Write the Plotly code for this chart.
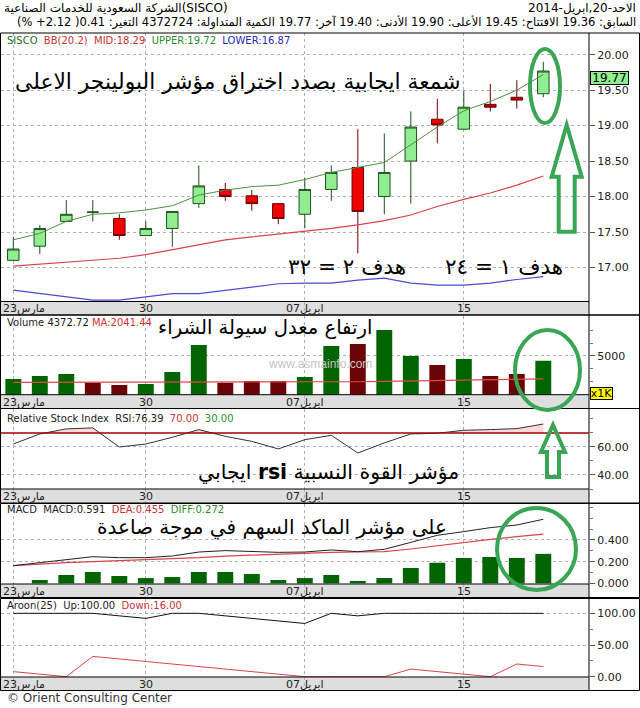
import plotly.graph_objects as go

W, H = 640, 708

# ---------------- data ----------------
# Tadawul sessions (Sun-Thu), 23 Mar 2014 .. 20 Apr 2014
sessions = ["2014-03-23", "2014-03-24", "2014-03-25", "2014-03-26", "2014-03-27",
            "2014-03-30", "2014-03-31", "2014-04-01", "2014-04-02", "2014-04-03",
            "2014-04-06", "2014-04-07", "2014-04-08", "2014-04-09", "2014-04-10",
            "2014-04-13", "2014-04-14", "2014-04-15", "2014-04-16", "2014-04-17",
            "2014-04-20"]
date_tick_idx = [0, 5, 11, 17]
date_tick_text = ["23مارس", "30", "07ابريل", "15"]

opens = [17.10, 17.30, 17.65, 17.78, 17.69, 17.45, 17.55, 17.90, 18.10, 18.01, 17.90,
         17.75, 18.10, 18.41, 18.00, 18.50, 19.09, 18.95, 19.30, 19.40, 19.45]
highs = [17.43, 17.60, 17.95, 17.95, 17.75, 17.65, 17.79, 18.44, 18.19, 18.09, 17.90,
         18.26, 18.44, 18.95, 18.89, 19.20, 19.38, 19.49, 19.59, 19.64, 19.90]
lows = [17.10, 17.19, 17.64, 17.65, 17.39, 17.45, 17.29, 17.84, 17.94, 17.80, 17.61,
        17.55, 17.94, 17.20, 17.75, 17.90, 18.75, 18.95, 19.20, 19.24, 19.40]
closes = [17.26, 17.55, 17.75, 17.78, 17.45, 17.55, 17.79, 18.15, 18.00, 17.90, 17.69,
          18.10, 18.34, 17.79, 18.34, 18.98, 19.01, 19.26, 19.26, 19.36, 19.77]

bb_upper = [17.39, 17.48, 17.65, 17.75, 17.77, 17.81, 17.87, 18.02, 18.09, 18.14, 18.16,
            18.24, 18.34, 18.41, 18.48, 18.73, 18.98, 19.21, 19.34, 19.50, 19.72]
bb_mid = [17.02, 17.05, 17.08, 17.10, 17.13, 17.18, 17.25, 17.33, 17.39, 17.43, 17.47,
          17.50, 17.55, 17.60, 17.66, 17.74, 17.86, 17.96, 18.05, 18.16, 18.29]
bb_lower = [16.68, 16.63, 16.59, 16.54, 16.54, 16.59, 16.63, 16.63, 16.68, 16.73, 16.77,
            16.78, 16.78, 16.82, 16.85, 16.78, 16.75, 16.75, 16.78, 16.83, 16.87]

volume_k = [2028, 2416, 2674, 1550, 1253, 1382, 2933, 6421, 1550, 1770, 1770,
            2287, 6292, 6550, 8359, 5000, 3837, 4612, 2416, 2674, 4372.72]
volume_ma = [1598, 1600, 1600, 1601, 1601, 1602, 1602, 1602, 1602, 1602, 1602,
             1602, 1623, 1675, 1727, 1780, 1832, 1884, 1937, 1989, 2041.44]

rsi = [62.1, 69.3, 72.9, 73.6, 60.0, 62.1, 66.9, 72.4, 67.6, 64.0, 58.6,
       65.2, 68.3, 55.7, 62.9, 69.3, 69.8, 71.9, 72.4, 73.1, 76.39]
rsi_upper, rsi_lower = 70.0, 30.0

macd = [0.163, 0.191, 0.222, 0.246, 0.237, 0.237, 0.252, 0.289, 0.302, 0.292, 0.286,
        0.289, 0.308, 0.292, 0.314, 0.378, 0.443, 0.477, 0.514, 0.538, 0.591]
dea = [0.163, 0.178, 0.191, 0.200, 0.209, 0.215, 0.225, 0.237, 0.252, 0.262, 0.271,
       0.277, 0.286, 0.289, 0.292, 0.317, 0.348, 0.375, 0.406, 0.431, 0.455]
diff = [0.000, 0.031, 0.077, 0.105, 0.068, 0.049, 0.058, 0.105, 0.105, 0.086, 0.031,
        0.049, 0.077, 0.022, 0.049, 0.142, 0.190, 0.234, 0.243, 0.234, 0.272]

aroon_up = [100, 100, 100, 100, 96, 92, 100, 100, 96, 92, 88,
            84, 100, 96, 100, 100, 100, 100, 100, 100, 100]
aroon_down = [8, 4, 0, 32, 28, 24, 20, 16, 12, 8, 4,
              0, 0, 0, 0, 12, 8, 4, 0, 20, 16]

idx = list(range(len(sessions)))

# ---------------- geometry (pixels) ----------------
PLOT_L, PLOT_R = 1.0, 589.0          # plot area, right column holds the value scale
FIRST_PX, STEP_PX = 13.3, 26.5       # centre of first session, session spacing
x_range = [(PLOT_L - FIRST_PX) / STEP_PX, (PLOT_R - FIRST_PX) / STEP_PX]


def fx(px):
    return px / W


def fy(py):
    return 1 - py / H


def ydom(top, bottom):
    return [fy(bottom), fy(top)]


FONT = "DejaVu Sans"
TICKFONT = dict(family=FONT, size=11, color="#222")
GRID = "#b0b0b0"

# panel boxes: (axis number, top px, bottom px, value range)
price_box = (1, 33.0, 301.5, [16.52, 20.306])
vol_box = (3, 315.5, 394.7, [0, 10230])
rsi_box = (6, 409.0, 489.0, [30.0, 87.1])
macd_box = (8, 504.0, 584.0, [-0.006, 0.732])
aroon_box = (10, 599.0, 677.0, [-0.5, 122.6])
strip_boxes = [(2, 301.5, 315.0), (4, 394.7, 408.5), (7, 489.0, 503.0),
               (9, 584.0, 597.5), (11, 677.0, 690.5)]
blocks = [(33.0, 315.0), (315.0, 408.5), (408.5, 503.0), (503.5, 597.5), (598.5, 690.5)]

layout = dict(template="none", width=W, height=H,
              margin=dict(l=0, r=0, t=0, b=0, pad=0, autoexpand=False),
              paper_bgcolor="white", plot_bgcolor="rgba(0,0,0,0)",
              showlegend=False, hovermode=False, boxgap=0.38, bargap=0.4,
              font=dict(family=FONT, color="#000"))


def name(kind, n):
    return kind if n == 1 else f"{kind}{n}"


def add_x(n, grid=True):
    layout[name("xaxis", n)] = dict(
        domain=[fx(PLOT_L), fx(PLOT_R)], range=x_range, anchor=name("y", n),
        showticklabels=False, ticks="", tickvals=date_tick_idx, automargin=False,
        showgrid=grid, gridcolor=GRID, griddash="dot", gridwidth=1,
        zeroline=False, showline=False, fixedrange=True,
        rangeslider=dict(visible=False))


def add_y(n, top, bottom, rng, tickvals=None, ticktext=None, minor_vals=None, visible=True):
    ax = dict(domain=ydom(top, bottom), range=rng, anchor=name("x", n), automargin=False,
              zeroline=False, showline=False, fixedrange=True)
    if not visible:
        ax.update(visible=False)
    else:
        ax.update(side="right", ticks="outside", ticklen=5, tickcolor="#555",
                  tickvals=tickvals, ticktext=ticktext, tickfont=TICKFONT,
                  showgrid=True, gridcolor=GRID, griddash="dot", gridwidth=1)
        if minor_vals:
            ax["minor"] = dict(tickvals=minor_vals, ticks="outside", ticklen=3,
                               tickcolor="#777", showgrid=False)
    layout[name("yaxis", n)] = ax


# price
p_ticks = [17.0, 17.5, 18.0, 18.5, 19.0, 19.5, 20.0]
add_x(1)
add_y(1, price_box[1], price_box[2], price_box[3], p_ticks, [f"{v:.2f}" for v in p_ticks])
# volume
add_x(3)
add_y(3, vol_box[1], vol_box[2], vol_box[3], [5000], ["5000"],
      [1666.7, 3333.3, 6666.7, 8333.3])
# rsi: the shading subplot covers only the part of the panel above the 70 level
rsi_top_px, rsi_bot_px = rsi_box[1], rsi_box[2]
r_lo, r_hi = rsi_box[3]
rsi70_px = rsi_top_px + (r_hi - rsi_upper) / (r_hi - r_lo) * (rsi_bot_px - rsi_top_px)
add_x(5, grid=False)
add_y(5, rsi_top_px, rsi70_px, [rsi_upper, r_hi], visible=False)
add_x(6)
add_y(6, rsi_top_px, rsi_bot_px, rsi_box[3], [40, 60], ["40.00", "60.00"], [30, 50, 70, 80])
# macd
add_x(8)
add_y(8, macd_box[1], macd_box[2], macd_box[3], [0.0, 0.2, 0.4],
      ["0.000", "0.200", "0.400"], [0.1, 0.3, 0.5, 0.6, 0.7])
# aroon
add_x(10)
add_y(10, aroon_box[1], aroon_box[2], aroon_box[3], [0, 50, 100],
      ["0.00", "50.00", "100.00"], [25, 75])
# date strips
for n, t, b in strip_boxes:
    add_x(n)
    add_y(n, t, b, [0, 1], visible=False)

fig = go.Figure()
fig.update_layout(**layout)

# ---------------- traces ----------------
fig.add_trace(go.Candlestick(
    x=idx, open=opens, high=highs, low=lows, close=closes, xaxis="x", yaxis="y",
    whiskerwidth=0,
    increasing=dict(fillcolor="#90ee90", line=dict(color="#1f4f1f", width=1)),
    decreasing=dict(fillcolor="#f00000", line=dict(color="#6e0000", width=1))))
fig.add_trace(go.Scatter(x=idx, y=bb_mid, mode="lines", xaxis="x", yaxis="y",
                         line=dict(color="#d9434b", width=1.2)))
fig.add_trace(go.Scatter(x=idx, y=bb_lower, mode="lines", xaxis="x", yaxis="y",
                         line=dict(color="#4a4ad0", width=1.2)))
fig.add_trace(go.Scatter(x=idx, y=bb_upper, mode="lines", xaxis="x", yaxis="y",
                         line=dict(color="#4f8f45", width=1)))

vol_colors = ["#006400" if c > o else "#6b0505" for o, c in zip(opens, closes)]
fig.add_trace(go.Bar(x=idx, y=volume_k, xaxis="x3", yaxis="y3", width=0.6,
                     marker=dict(color=vol_colors, line=dict(width=0))))
fig.add_trace(go.Scatter(x=idx, y=volume_ma, mode="lines", xaxis="x3", yaxis="y3",
                         line=dict(color="#e04848", width=1.2)))

fig.add_trace(go.Scatter(x=idx, y=rsi, mode="lines", xaxis="x5", yaxis="y5",
                         fill="tozeroy", fillcolor="#ffd9d9", line=dict(width=0)))
fig.add_trace(go.Scatter(x=idx, y=rsi, mode="lines", xaxis="x6", yaxis="y6",
                         line=dict(color="#333333", width=1)))

fig.add_trace(go.Bar(x=idx, y=diff, xaxis="x8", yaxis="y8", width=0.6,
                     marker=dict(color="#006400", line=dict(width=0))))
fig.add_trace(go.Scatter(x=idx, y=dea, mode="lines", xaxis="x8", yaxis="y8",
                         line=dict(color="#d9434b", width=1.2)))
fig.add_trace(go.Scatter(x=idx, y=macd, mode="lines", xaxis="x8", yaxis="y8",
                         line=dict(color="#222222", width=1)))

fig.add_trace(go.Scatter(x=idx, y=aroon_up, mode="lines", xaxis="x10", yaxis="y10",
                         line=dict(color="#111111", width=1)))
fig.add_trace(go.Scatter(x=idx, y=aroon_down, mode="lines", xaxis="x10", yaxis="y10",
                         line=dict(color="#d9434b", width=1)))

# ---------------- frames ----------------
shapes = []
for n, t, b in strip_boxes:
    shapes.append(dict(type="rect", xref=f"x{n} domain", yref=f"y{n} domain",
                       x0=0, x1=1, y0=0, y1=1, fillcolor="#dedede",
                       line=dict(width=0), layer="below"))
    shapes.append(dict(type="line", xref="paper", yref="paper", x0=0, x1=fx(PLOT_R),
                       y0=fy(t), y1=fy(t), line=dict(color="#000", width=1)))
for t, b in blocks:
    shapes.append(dict(type="rect", xref="paper", yref="paper", x0=fx(0.5), x1=fx(639.5),
                       y0=fy(b), y1=fy(t), line=dict(color="#000", width=1)))
    shapes.append(dict(type="line", xref="paper", yref="paper", x0=fx(PLOT_R), x1=fx(PLOT_R),
                       y0=fy(b), y1=fy(t), line=dict(color="#000", width=1)))
# RSI 70 reference line
shapes.append(dict(type="line", xref="x6 domain", yref="y6", x0=0, x1=1,
                   y0=rsi_upper, y1=rsi_upper, line=dict(color="#a00000", width=1.5)))

# hand-drawn green highlights
HL = "#3aa655"


def ellipse(x0, x1, y0, y1):
    return dict(type="circle", xref="paper", yref="paper", x0=fx(x0), x1=fx(x1),
                y0=fy(y1), y1=fy(y0), line=dict(color=HL, width=4))


def up_arrow(tip_x, tip_y, head_y, head_half, shaft_half, bottom_y):
    pts = [(tip_x, tip_y), (tip_x + head_half, head_y), (tip_x + shaft_half, head_y),
           (tip_x + shaft_half, bottom_y), (tip_x - shaft_half, bottom_y),
           (tip_x - shaft_half, head_y), (tip_x - head_half, head_y)]
    path = "M " + " L ".join(f"{fx(a):.5f},{fy(b):.5f}" for a, b in pts) + " Z"
    return dict(type="path", xref="paper", yref="paper", path=path,
                line=dict(color=HL, width=4))


shapes += [
    ellipse(530, 560, 49, 123),
    up_arrow(566.7, 125, 176.7, 15, 8, 231.7),
    ellipse(515, 580, 330, 410),
    up_arrow(553, 425, 452, 12, 6, 477),
    ellipse(497, 576, 508, 590),
]
fig.update_layout(shapes=shapes)

# ---------------- text ----------------
ann = []
RLE, PDF = "\u202b", "\u202c"


def text(x, y, s, size=11, color="#000", xanchor="left", yanchor="middle", **kw):
    d = dict(xref="paper", yref="paper", x=fx(x), y=fy(y), text=s, showarrow=False,
             xanchor=xanchor, yanchor=yanchor,
             font=dict(family=kw.pop("family", FONT), size=size, color=color))
    d.update(kw)
    ann.append(d)


# header
text(2, 8, "الشركة السعودية للخدمات الصناعية(SISCO)", size=12)
text(638, 8, "الاحد-20,ابريل-2014", size=12, xanchor="right")
text(638, 23, RLE + "السابق: 19.36 الافتتاح: 19.45 الأعلى: 19.90 الأدنى: 19.40 آخر: 19.77 "
     "الكمية المتداولة: 4372724 التغير: 0.41( 2.12+ %)" + PDF, size=11.5, xanchor="right")


def legend(y, parts, sep="  "):
    s = sep.join(f"<span style='color:{c}'>{t}</span>" for t, c in parts)
    text(5, y, s, size=10)


legend(40, [("SISCO", "#1a6e1a"), ("BB(20.2)", "#c83232"), ("MID:18.29", "#c83232"),
            ("UPPER:19.72", "#2e8b2e"), ("LOWER:16.87", "#2828b4")])
legend(322, [("Volume", "#222"), ("4372.72", "#222"), ("MA:2041.44", "#d03030")], sep=" ")
legend(418, [("Relative Stock Index", "#222"), ("RSI:76.39", "#222"),
             ("70.00", "#c83232"), ("30.00", "#2e8b2e")])
legend(509, [("MACD", "#222"), ("MACD:0.591", "#222"), ("DEA:0.455", "#c83232"),
             ("DIFF:0.272", "#2e8b2e")])
legend(605, [("Aroon(25)", "#222"), ("Up:100.00", "#222"), ("Down:16.00", "#c83232")])

# session labels in each date strip
for n, t, b in strip_boxes:
    for i, lab in zip(date_tick_idx, date_tick_text):
        first = i == date_tick_idx[0]
        ann.append(dict(xref=f"x{n}", yref=f"y{n} domain",
                        x=x_range[0] if first else i, y=0.45, text=lab, showarrow=False,
                        xanchor="left" if first else "center", yanchor="middle",
                        font=dict(family=FONT, size=11, color="#222")))

# last price and volume unit tags
text(589.5, 78.5, "19.77", size=12, bgcolor="#90ee90", bordercolor="#000",
     borderwidth=1, borderpad=0, width=37, height=12)
text(590, 393, "x1K", size=11, bgcolor="#ffff00", bordercolor="#000",
     borderwidth=1, borderpad=0, width=21, height=11)

# watermark
text(320, 364, "www.asmainfo.com", size=12, color="#c4c4c4", xanchor="center",
     family="Liberation Sans")

# commentary
text(238, 81, "شمعة ايجابية بصدد اختراق مؤشر البولينجر الاعلى", size=21.8, xanchor="center")
text(565, 266, RLE + "هدف ١ = ٢٤" + PDF, size=21.5, xanchor="right")
text(408, 266, RLE + "هدف ٢ = ٣٢" + PDF, size=21.5, xanchor="right")
text(374, 327, "ارتفاع معدل سيولة الشراء", size=19.6, xanchor="right")
text(461, 472, RLE + "مؤشر القوة النسبية <b>rsi</b> ايجابي" + PDF, size=20.4, xanchor="right")
text(449, 527, "على مؤشر الماكد السهم في موجة صاعدة", size=20.0, xanchor="right")

# footer
text(5, 698, "© Orient Consulting Center", size=12, color="#333")

fig.update_layout(annotations=ann)
fig.write_html("out.html")
